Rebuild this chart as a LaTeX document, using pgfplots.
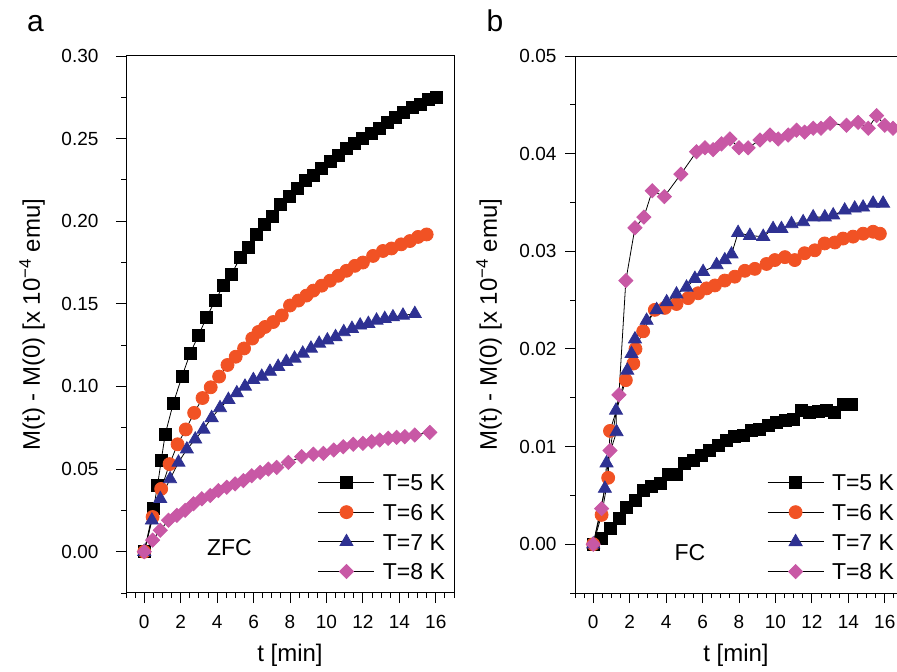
\documentclass[border=0pt]{standalone}
\usepackage{fontspec}
\setmainfont{Liberation Sans}
\usepackage{pgfplots}
\pgfplotsset{compat=1.18}
\definecolor{c5}{RGB}{0,0,0}
\definecolor{c6}{RGB}{241,82,36}
\definecolor{c7}{RGB}{46,49,146}
\definecolor{c8}{RGB}{200,88,165}
\pgfplotsset{
  panel/.style={
    scale only axis, height=537pt,
    xmin=-1,
    xtick={-2,0,2,4,6,8,10,12,14,16,18}, minor x tick num=3,
    tick pos=left, tick align=outside,
    major tick length=10pt, minor tick length=5pt,
    axis line style={-, line width=1pt},
    every tick/.style={black, line width=0.9pt},
    tick label style={font=\fontsize{19}{22}\selectfont},
    label style={font=\fontsize{24}{28}\selectfont},
    /pgf/number format/assume math mode=true,
    scaled y ticks=false,
    yticklabel style={/pgf/number format/fixed, /pgf/number format/fixed zerofill, /pgf/number format/precision=2},
    xticklabel style={yshift=-9pt},
    xlabel={t [min]},
    xlabel style={at={(axis description cs:0.5,-0.1155)}, anchor=center},
    ylabel={M(t) - M(0) [x 10\textsuperscript{−4} emu]},
    legend style={draw=none, fill=none, inner sep=0pt,
      font=\fontsize{23}{27}\selectfont,
      nodes={inner sep=0pt, text height=16.5pt, text depth=0pt},
      row sep=13.2pt,
      /tikz/every odd column/.append style={column sep=8pt},
      anchor=north west},
    legend cell align=left,
    legend image code/.code={
      \draw[mark repeat=2,mark phase=2,##1] plot coordinates {(0pt,0pt) (28pt,0pt) (56pt,0pt)};
    },
  },
  s5/.style={black, line width=0.8pt, mark=square*, mark size=6, mark options={solid, draw=c5, fill=c5}},
  s6/.style={black, line width=0.8pt, mark=*, mark size=6.5, mark options={solid, draw=c6, fill=c6}},
  s7/.style={black, line width=0.8pt, mark=triangle*, mark size=7.5, mark options={solid, draw=c7, fill=c7}},
  s8/.style={black, line width=0.8pt, mark=square*, mark size=5, mark options={solid, rotate=45, draw=c8, fill=c8}},
}
\begin{document}
\begin{tikzpicture}[trim left=0pt, trim right=897pt]
\path (0pt,0pt) rectangle (897pt,672pt);
\begin{axis}[panel, at={(126pt,79pt)}, anchor=south west,
  width=328pt, xmax=17,
  ymin=-0.025, ymax=0.30,
  ytick={-0.05,0,0.05,0.1,0.15,0.2,0.25,0.3}, minor y tick num=1,
  yticklabel style={xshift=-14pt},
  ylabel style={at={(axis description cs:-0.2866,0.5)}, anchor=center},
  legend style={at={(0.585,0.2216)}}]
\addplot[s5] coordinates {
(0,0) (0.51,0.026) (0.73,0.040) (0.93,0.055) (1.15,0.071) (1.60,0.090) (2.07,0.106)
(2.52,0.120) (2.98,0.131) (3.43,0.142) (3.89,0.152) (4.35,0.161) (4.80,0.168)
(5.26,0.178) (5.70,0.184) (6.15,0.192) (6.60,0.198) (7.05,0.203) (7.50,0.210)
(7.95,0.215) (8.40,0.220) (8.85,0.225) (9.30,0.228) (9.75,0.232) (10.20,0.236)
(10.65,0.240) (11.10,0.244) (11.55,0.247) (12.00,0.250) (12.45,0.253) (12.90,0.256)
(13.35,0.260) (13.80,0.263) (14.25,0.266) (14.70,0.269) (15.15,0.271) (15.60,0.274)
(16.05,0.275)};
\addlegendentry{T=5 K}
\addplot[s6] coordinates {
(0,0) (0.46,0.021) (0.93,0.038) (1.39,0.053) (1.83,0.065) (2.28,0.074) (2.74,0.084)
(3.20,0.093) (3.65,0.0995) (4.11,0.106) (4.57,0.113) (5.02,0.118) (5.48,0.123)
(5.93,0.129) (6.27,0.133) (6.63,0.136) (7.08,0.139) (7.55,0.143) (8.00,0.149)
(8.46,0.152) (8.90,0.155) (9.28,0.158) (9.74,0.161) (10.20,0.164) (10.65,0.167)
(11.10,0.170) (11.56,0.173) (12.00,0.175) (12.56,0.179) (13.10,0.182) (13.57,0.1835)
(14.10,0.186) (14.58,0.188) (15.03,0.1905) (15.50,0.192)};
\addlegendentry{T=6 K}
\addplot[s7] coordinates {
(0,0) (0.42,0.019) (0.88,0.032) (1.42,0.044) (1.88,0.054) (2.34,0.062) (2.80,0.068)
(3.25,0.074) (3.70,0.081) (4.16,0.087) (4.62,0.092) (5.08,0.096) (5.53,0.100)
(5.99,0.104) (6.45,0.106) (6.90,0.109) (7.35,0.112) (7.80,0.115) (8.25,0.117)
(8.70,0.120) (9.15,0.123) (9.60,0.126) (10.05,0.128) (10.50,0.130) (10.95,0.133)
(11.40,0.135) (11.85,0.137) (12.30,0.138) (12.75,0.140) (13.20,0.141) (13.65,0.142)
(14.20,0.143) (14.85,0.144)};
\addlegendentry{T=7 K}
\addplot[s8] coordinates {
(0,0) (0.46,0.007) (0.88,0.013) (1.33,0.019) (1.79,0.022) (2.25,0.025) (2.70,0.029)
(3.16,0.032) (3.62,0.034) (4.07,0.037) (4.53,0.039) (4.99,0.041) (5.44,0.043)
(5.90,0.046) (6.36,0.048) (6.81,0.050) (7.27,0.051) (7.91,0.054) (8.64,0.0575)
(9.28,0.059) (9.83,0.0595) (10.40,0.0615) (10.92,0.0635) (11.47,0.065) (12.00,0.0656)
(12.48,0.0666) (12.93,0.0676) (13.39,0.0686) (13.85,0.0692) (14.30,0.0696)
(14.85,0.0706) (15.67,0.0722)};
\addlegendentry{T=8 K}
\node[font=\fontsize{23}{27}\selectfont] at (rel axis cs:0.3155,0.0838) {ZFC};
\end{axis}
\begin{axis}[panel, at={(575pt,79pt)}, anchor=south west,
  width=322pt, xmax=16.671,
  axis x line*=bottom, axis y line*=left,
  ymin=-0.005, ymax=0.05,
  ytick={-0.01,0,0.01,0.02,0.03,0.04,0.05}, minor y tick num=1,
  yticklabel style={xshift=-5pt},
  ylabel style={at={(axis description cs:-0.267,0.5)}, anchor=center},
  legend style={at={(0.5963,0.2216)}}]
\addplot[s5] coordinates {
(0,0) (0.46,0.0006) (0.92,0.0016) (1.41,0.0026) (1.83,0.0038) (2.29,0.0045)
(2.74,0.0055) (3.20,0.0059) (3.66,0.0062) (4.11,0.0071) (4.57,0.0071) (5.03,0.0083)
(5.49,0.0086) (5.95,0.0091) (6.40,0.0096) (6.86,0.0101) (7.32,0.0106) (7.77,0.0110)
(8.23,0.0111) (8.69,0.0117) (9.14,0.0118) (9.60,0.0122) (10.06,0.0125) (10.52,0.0127)
(10.97,0.0128) (11.43,0.0137) (11.89,0.0135) (12.34,0.0136) (12.80,0.0137)
(13.26,0.0135) (13.71,0.0143) (14.17,0.0143)};
\addlegendentry{T=5 K}
\addplot[s6] coordinates {
(0,0) (0.46,0.0030) (0.82,0.0068) (0.92,0.0116) (1.79,0.0168) (2.20,0.0185)
(2.32,0.0200) (2.74,0.0218) (3.38,0.0240) (3.93,0.0242) (4.57,0.0246) (5.21,0.0252)
(5.76,0.0257) (6.22,0.0262) (6.68,0.0265) (7.22,0.0270) (7.77,0.0274) (8.32,0.0280)
(8.87,0.0282) (9.51,0.0287) (9.97,0.0291) (10.52,0.0294) (11.06,0.0291) (11.60,0.0298)
(12.16,0.0301) (12.70,0.0308) (13.26,0.0309) (13.71,0.0313) (14.26,0.0315)
(14.81,0.0318) (15.36,0.0320) (15.73,0.0318)};
\addlegendentry{T=6 K}
\addplot[s7] coordinates {
(0,0) (0.64,0.0057) (0.73,0.0083) (1.28,0.0115) (1.25,0.0137) (1.87,0.0178)
(2.10,0.0195) (2.29,0.0210) (2.93,0.0229) (3.48,0.0240) (4.03,0.0248) (4.57,0.0256)
(5.12,0.0263) (5.58,0.0272) (6.03,0.0279) (6.77,0.0286) (7.22,0.0291) (7.59,0.0297)
(7.95,0.0319) (8.60,0.0316) (9.33,0.0315) (9.87,0.0323) (10.33,0.0323) (10.88,0.0328)
(11.52,0.0330) (12.07,0.0335) (12.71,0.0335) (13.17,0.0337) (13.80,0.0342)
(14.35,0.0344) (14.81,0.0345) (15.36,0.0349) (15.91,0.0349)};
\addlegendentry{T=7 K}
\addplot[s8] coordinates {
(0,0) (0.46,0.00365) (0.92,0.0096) (1.41,0.0153) (1.79,0.0270) (2.29,0.0324)
(2.78,0.0335) (3.24,0.0362) (3.90,0.0356) (4.81,0.0379) (5.67,0.0402) (6.13,0.0406)
(6.58,0.0404) (7.04,0.0410) (7.50,0.0415) (8.00,0.0406) (8.50,0.0406) (9.15,0.0414)
(9.70,0.0419) (10.15,0.0415) (10.70,0.0419) (11.16,0.0424) (11.60,0.0422)
(12.07,0.0426) (12.50,0.0426) (13.00,0.0431) (13.90,0.0429) (14.54,0.0432)
(15.09,0.0426) (15.55,0.0439) (16.00,0.0429) (16.45,0.0426)};
\addlegendentry{T=8 K}
\node[font=\fontsize{23}{27}\selectfont] at (rel axis cs:0.3571,0.0745) {FC};
\draw[line width=1pt] (rel axis cs:0,1) -- (rel axis cs:1,1);
\end{axis}
\node[font=\fontsize{30}{34}\selectfont, anchor=base] at (35.5pt,640pt) {a};
\node[font=\fontsize{30}{34}\selectfont, anchor=base] at (495pt,640pt) {b};
\end{tikzpicture}
\end{document}
